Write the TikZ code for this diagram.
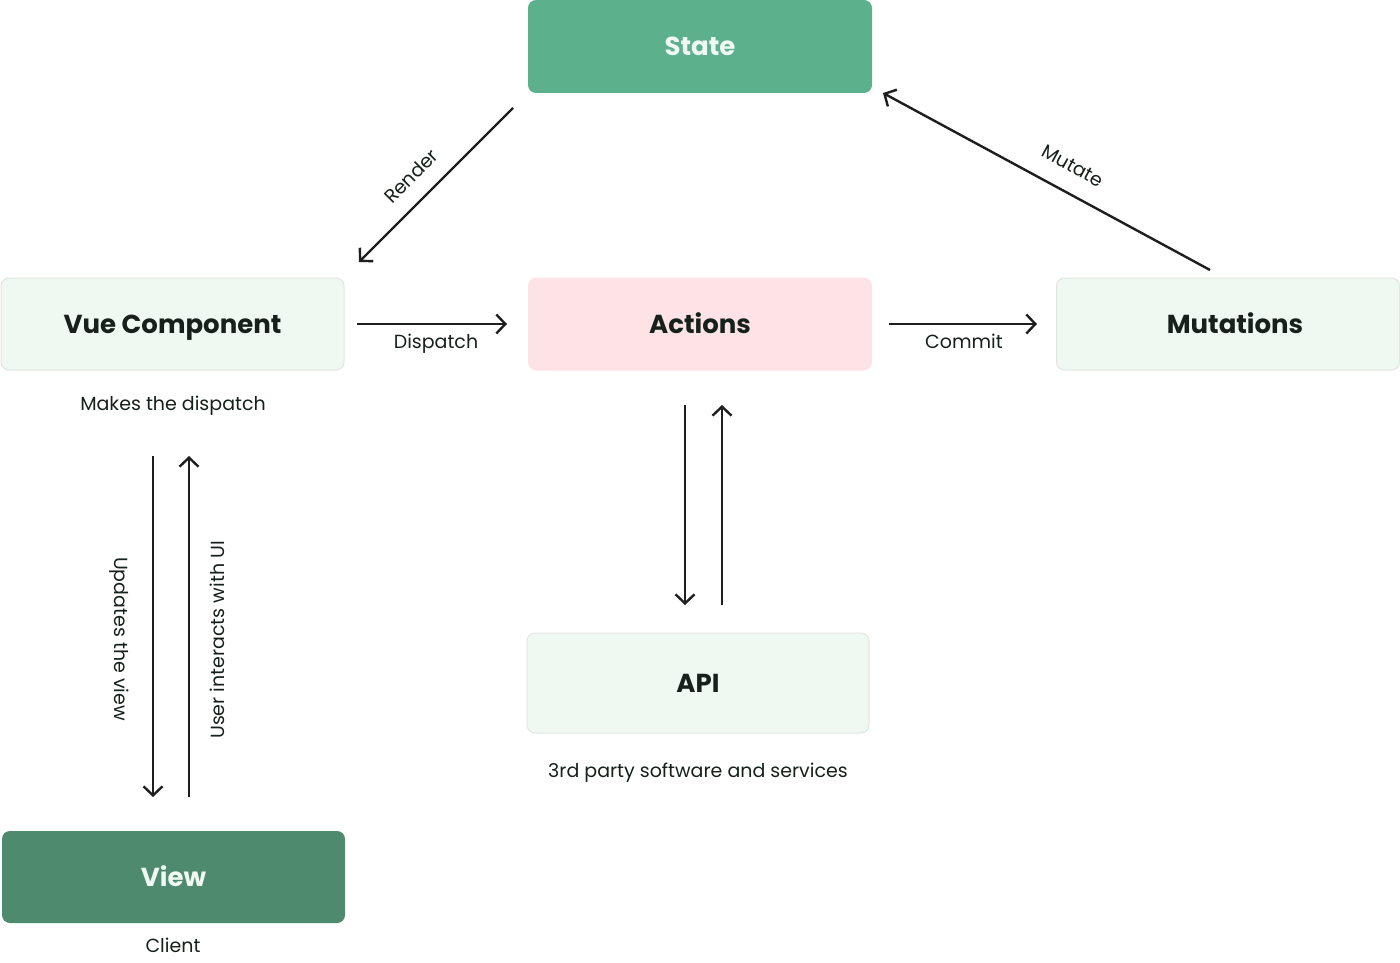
\documentclass[tikz,border=0pt]{standalone}
\usepackage{fontspec}
\setmainfont{Poppins}
\usetikzlibrary{arrows.meta}
\definecolor{stategreen}{HTML}{5DB08C}
\definecolor{viewgreen}{HTML}{4E8A6D}
\definecolor{lightgreen}{HTML}{EFF8F1}
\definecolor{lightpink}{HTML}{FDE3E6}
\definecolor{boxline}{HTML}{E2E6E2}
\definecolor{darktext}{HTML}{15211A}
\definecolor{palewhite}{HTML}{F0FAF2}
\definecolor{linecol}{HTML}{1E1E1E}
\begin{document}
\begin{tikzpicture}[x=1pt,y=-1pt,
  box/.style={rounded corners=8pt, minimum height=92pt, minimum width=343pt, inner sep=0pt,
    text height=18pt, text depth=0pt,
    font=\fontsize{26}{30}\selectfont\bfseries},
  lightbox/.style={box, fill=lightgreen, draw=boxline, line width=1pt, text=darktext},
  darkbox/.style={box, draw=none, text=palewhite},
  sub/.style={font=\fontsize{19}{23}\selectfont, text=darktext, inner sep=0pt,
    text height=13.5pt, text depth=0pt},
  lbl/.style={sub},
  conn/.style={draw=linecol, line width=2.4pt, -{Straight Barb[length=9pt,width=19pt,line width=2.4pt]}}
]
\useasboundingbox (0,0) rectangle (1400,963);
\fill[white] (0,0) rectangle (1400,963);

% boxes
\node[darkbox, fill=stategreen, minimum width=344pt, minimum height=93pt] (state) at (700,46.5) {State};
\node[lightbox] (vue) at (172.5,324) {Vue Component};
\node[lightbox, fill=lightpink, draw=lightpink] (actions) at (700,324) {Actions};
\node[lightbox] (mut) at (1228,324) {\hspace*{14pt}Mutations};
\node[lightbox, minimum height=100pt, minimum width=342pt] (api) at (698,683) {API};
\node[darkbox, fill=viewgreen] (view) at (173.5,877) {View};

% sub texts
\node[sub] (vuesub) at (173,403.5) {Makes the dispatch};
\node[sub] (apisub) at (698,771) {3rd party software and services};
\node[sub] (viewsub) at (173,946) {Client};

% arrow end points
\coordinate (r1) at (513,108);
\coordinate (r2) at (359,262);
\coordinate (d1) at (357,324);
\coordinate (d2) at (507,324);
\coordinate (c1) at (889,324);
\coordinate (c2) at (1037,324);
\coordinate (m1) at (1210,270);
\coordinate (m2) at (883,93);
\coordinate (u1) at (153,456);
\coordinate (u2) at (153,797);
\coordinate (i1) at (189,797);
\coordinate (i2) at (189,456);
\coordinate (a1) at (685,405);
\coordinate (a2) at (685,605);
\coordinate (b1) at (722,605);
\coordinate (b2) at (722,405);

% connectors
\draw[conn] (r1) -- (r2);
\draw[conn] (d1) -- (d2);
\draw[conn] (c1) -- (c2);
\draw[conn] (m1) -- (m2);
\draw[conn] (u1) -- (u2);
\draw[conn] (i1) -- (i2);
\draw[conn] (a1) -- (a2);
\draw[conn] (b1) -- (b2);

% labels
\node[lbl, rotate=45] (lrender) at (411,176) {Render};
\node[lbl] (ldispatch) at (436,342) {Dispatch};
\node[lbl] (lcommit) at (964,342) {Commit};
\node[lbl, rotate=-28.5] (lmutate) at (1073,166) {Mutate};
\node[lbl, rotate=-90] (lupdates) at (121,639) {Updates the view};
\node[lbl, rotate=90] (luser) at (218,640) {User interacts with UI};
\end{tikzpicture}
\end{document}
